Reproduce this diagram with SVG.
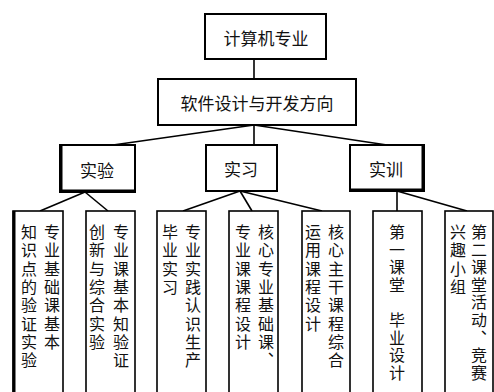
<svg xmlns="http://www.w3.org/2000/svg" width="494" height="392" viewBox="0 0 494 392">
<style>
.box{fill:#fff;stroke:#000;stroke-width:2}
.leaf{fill:#fff;stroke:#000;stroke-width:1.6}
.edge{stroke:#000;stroke-width:3;fill:none}
.t{font-family:"Noto Sans CJK SC",sans-serif;font-size:17px;fill:#111;text-anchor:middle;dominant-baseline:central}
.v{font-family:"Noto Sans CJK SC",sans-serif;font-size:16px;fill:#111;writing-mode:vertical-rl;letter-spacing:2.3px}
.v.tight{letter-spacing:1.6px}
.c line{stroke:#000;stroke-width:1.6}
</style>
<rect width="494" height="392" fill="#fff"/>
<g id="connectors" class="c">
<line x1="254" y1="59" x2="254" y2="79"/>
<line x1="254" y1="125" x2="113" y2="145"/>
<line x1="254" y1="125" x2="254" y2="145"/>
<line x1="254" y1="125" x2="387" y2="145"/>
<line x1="85" y1="192" x2="40" y2="211"/>
<line x1="85" y1="192" x2="108" y2="211"/>
<line x1="240" y1="191" x2="183" y2="211"/>
<line x1="240" y1="191" x2="252" y2="211"/>
<line x1="240" y1="191" x2="322" y2="211"/>
<line x1="397" y1="191" x2="397" y2="211"/>
<line x1="397" y1="191" x2="467" y2="211"/>
</g>
<g id="root">
<rect class="box" x="205" y="14" width="121" height="45" stroke-width="2.8"/>
<text class="t" x="266" y="37">计算机专业</text>
</g>
<g id="direction">
<rect class="box" x="158" y="79" width="198" height="46"/>
<text class="t" x="257" y="102">软件设计与开发方向</text>
</g>
<g id="shiyan">
<rect class="box" x="60" y="145" width="75" height="47"/>
<polyline class="edge" points="61,145 61,191 135,191"/>
<text class="t" x="97" y="169">实验</text>
</g>
<g id="shixi">
<rect class="box" x="206" y="145" width="71" height="46"/>
<text class="t" x="241" y="168">实习</text>
</g>
<g id="shixun">
<rect class="box" x="350" y="145" width="74" height="46"/>
<polyline class="edge" points="350,190 423,190 423,145"/>
<text class="t" x="386" y="168">实训</text>
</g>
<g id="leaf1">
<rect class="leaf" x="13" y="211" width="50" height="190"/>
<line class="edge" x1="14" y1="211" x2="14" y2="392"/>
<text class="v" x="52" y="224">专业基础课基本</text>
<text class="v" x="29" y="224">知识点的验证实验</text>
</g>
<g id="leaf2">
<rect class="leaf" x="86" y="211" width="49" height="190"/>
<text class="v" x="121" y="224">专业课基本知验证</text>
<text class="v" x="97" y="224">创新与综合实验</text>
</g>
<g id="leaf3">
<rect class="leaf" x="157" y="211" width="49" height="190"/>
<text class="v" x="193" y="224">专业实践认识生产</text>
<text class="v" x="170" y="224">毕业实习</text>
</g>
<g id="leaf4">
<rect class="leaf" x="229" y="211" width="49" height="190"/>
<text class="v" x="266" y="224">核心专业基础课、</text>
<text class="v" x="243" y="224">专业课课程设计</text>
</g>
<g id="leaf5">
<rect class="leaf" x="302" y="211" width="48" height="190"/>
<text class="v" x="336" y="224">核心主干课程综合</text>
<text class="v" x="313" y="224">运用课程设计</text>
</g>
<g id="leaf6">
<rect class="leaf" x="373" y="211" width="49" height="190"/>
<text class="v tight" x="397" y="224">第一课堂　毕业设计</text>
</g>
<g id="leaf7">
<rect class="leaf" x="445" y="211" width="48" height="190"/>
<text class="v tight" x="479" y="224">第二课堂活动、竞赛</text>
<text class="v" x="458" y="224">兴趣小组</text>
</g>
</svg>
